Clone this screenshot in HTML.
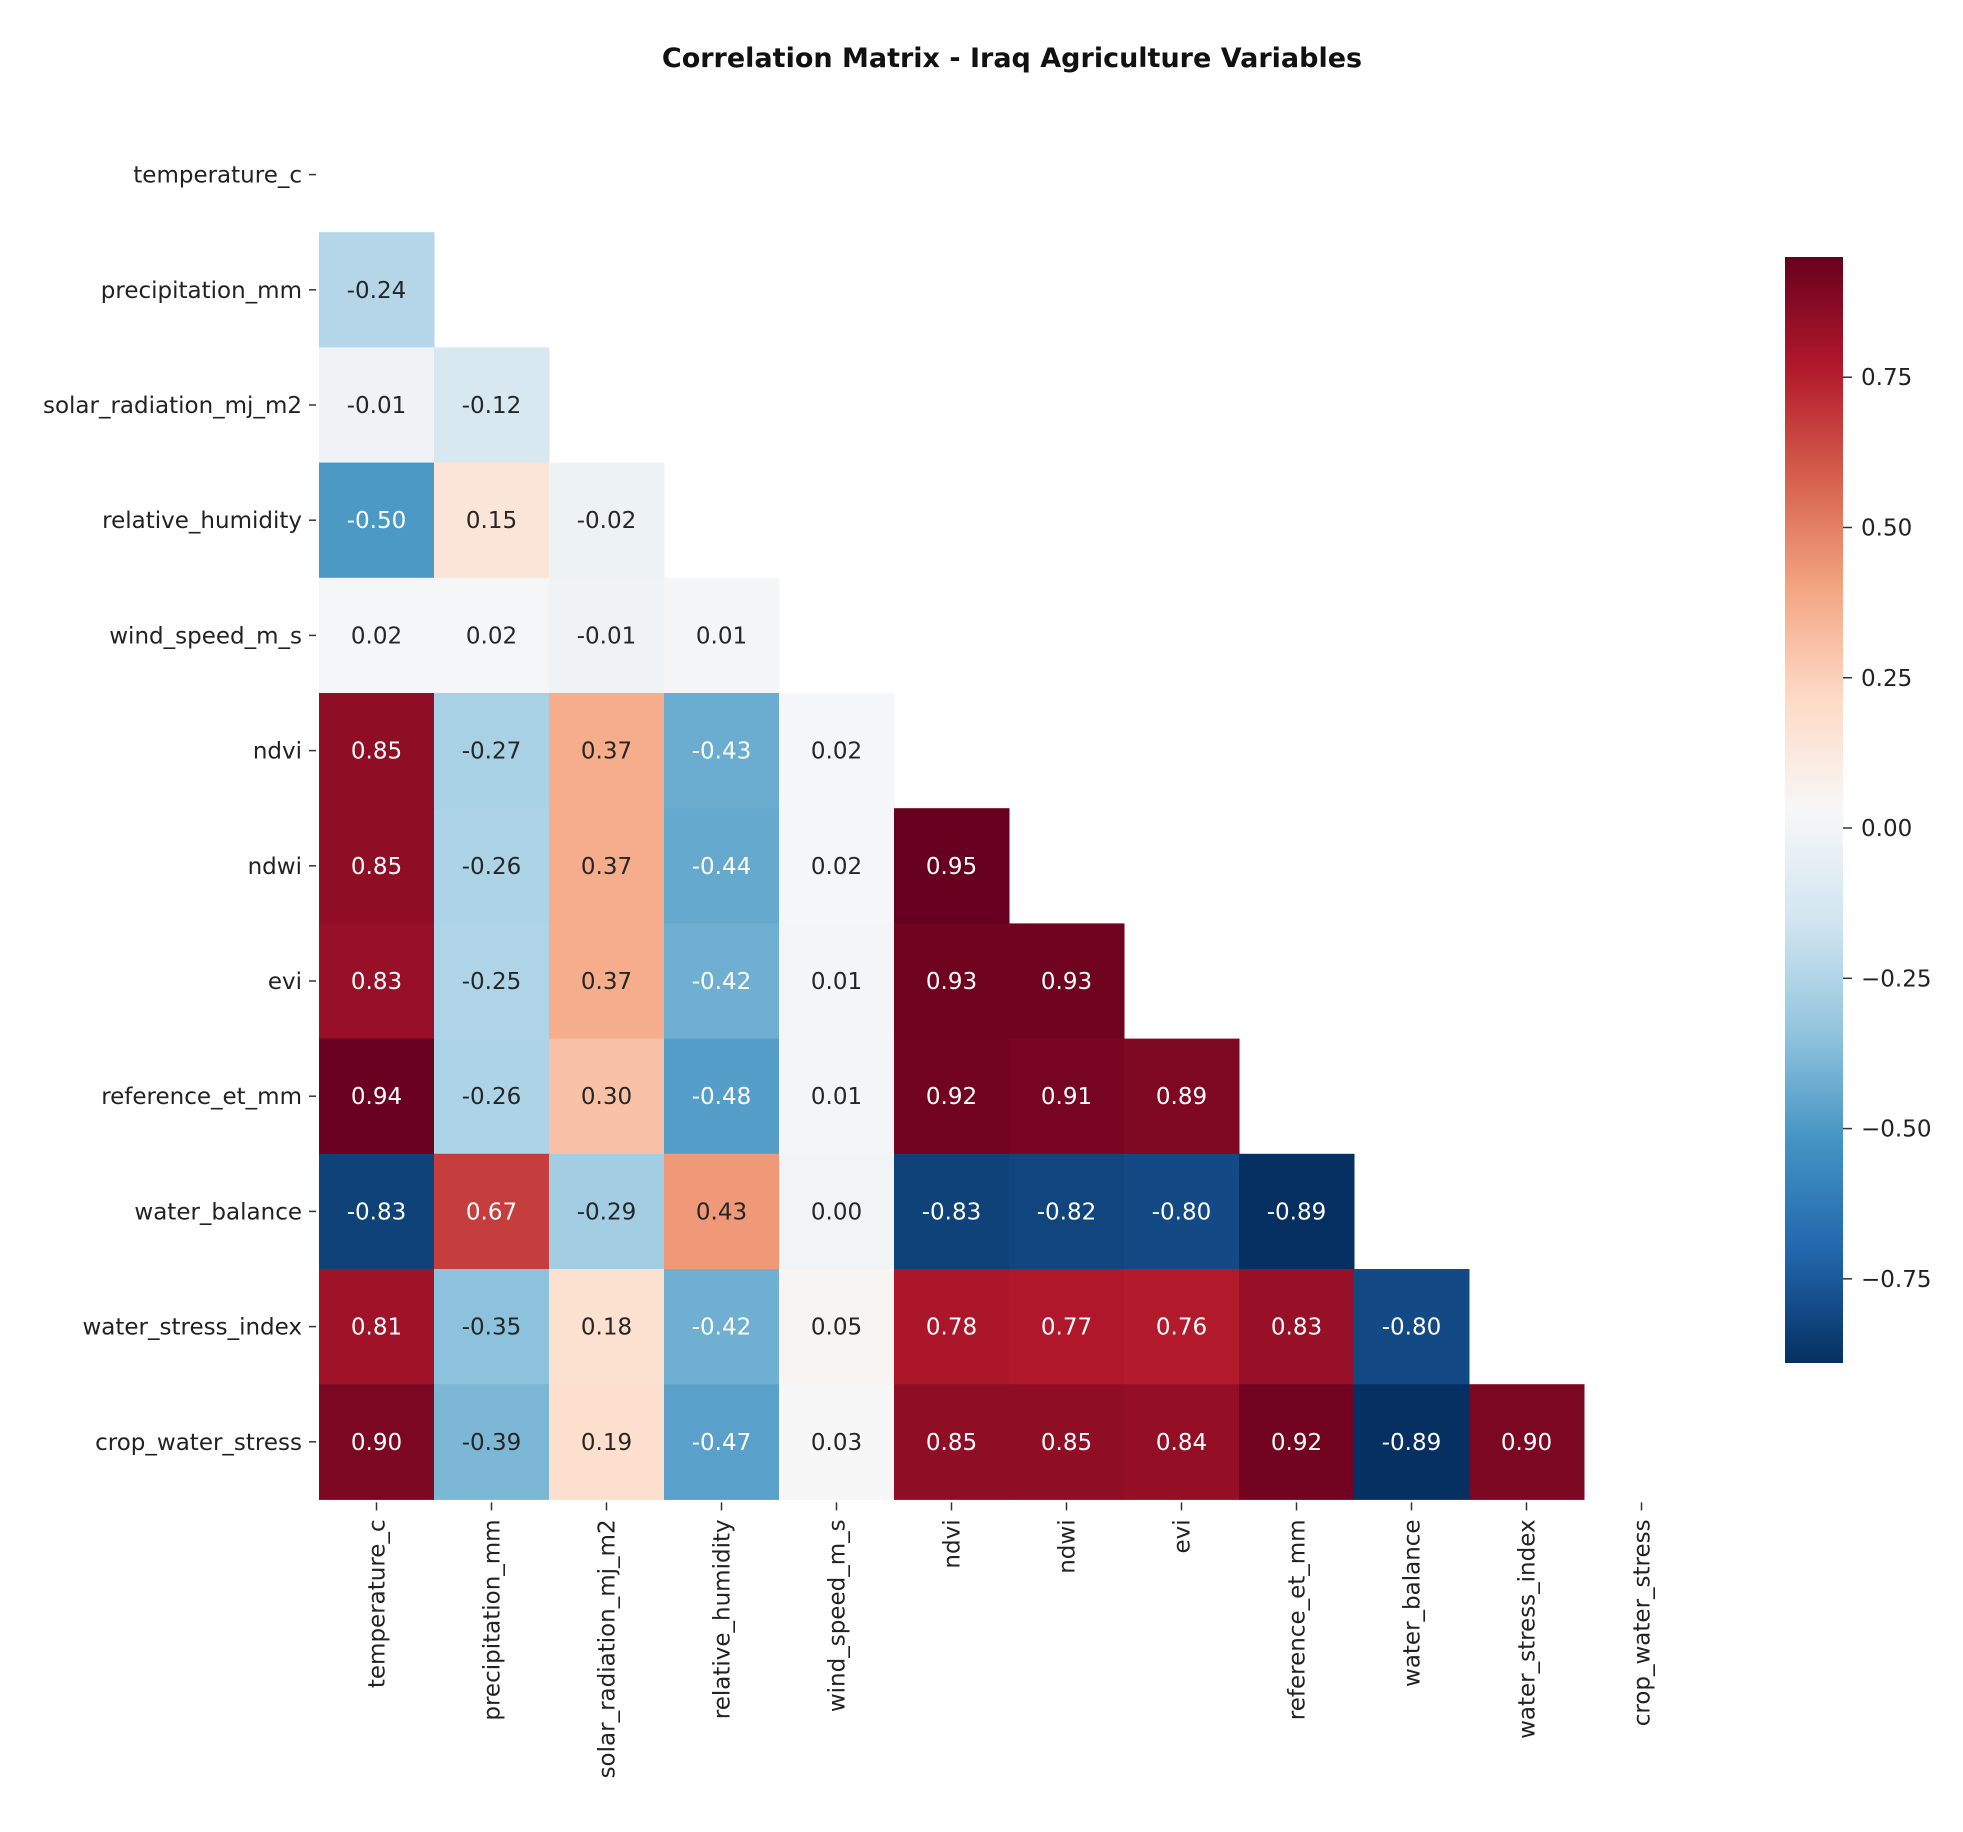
<!DOCTYPE html>
<html><head><meta charset="utf-8">
<style>
html,body{margin:0;padding:0;background:#fff;}
svg{display:block;font-family:"DejaVu Sans","Liberation Sans",sans-serif;}
</style></head>
<body>
<svg id="chart" width="1963" height="1832" viewBox="0 0 1963 1832" xmlns="http://www.w3.org/2000/svg">
  <defs><linearGradient id="cbgrad" x1="0" y1="1" x2="0" y2="0"></linearGradient></defs>
  <text x="1012" y="67" text-anchor="middle" font-size="27" font-weight="bold" fill="#111">Correlation Matrix - Iraq Agriculture Variables</text>
  <g id="cells"></g>
  <g id="ylabels"></g>
  <g id="xlabels"></g>
  <g id="colorbar"></g>
</svg>
<script>
const variables = ["temperature_c","precipitation_mm","solar_radiation_mj_m2","relative_humidity","wind_speed_m_s","ndvi","ndwi","evi","reference_et_mm","water_balance","water_stress_index","crop_water_stress"];
const row1 = [-0.24];
const row2 = [-0.01,-0.12];
const row3 = [-0.50,0.15,-0.02];
const row4 = [0.02,0.02,-0.01,0.01];
const row5 = [0.85,-0.27,0.37,-0.43,0.02];
const row6 = [0.85,-0.26,0.37,-0.44,0.02,0.95];
const row7 = [0.83,-0.25,0.37,-0.42,0.01,0.93,0.93];
const row8 = [0.94,-0.26,0.30,-0.48,0.01,0.92,0.91,0.89];
const row9 = [-0.83,0.67,-0.29,0.43,0.00,-0.83,-0.82,-0.80,-0.89];
const row10 = [0.81,-0.35,0.18,-0.42,0.05,0.78,0.77,0.76,0.83,-0.80];
const row11 = [0.90,-0.39,0.19,-0.47,0.03,0.85,0.85,0.84,0.92,-0.89,0.90];
const rows = [[],row1,row2,row3,row4,row5,row6,row7,row8,row9,row10,row11];
const colorbarTicks = [0.75,0.50,0.25,0.00,-0.25,-0.50,-0.75];
const vmin = -0.89, vmax = 0.95;

const NS = "http://www.w3.org/2000/svg";
const gx0 = 319, gy0 = 117, cw = 115, ch = 115.2;
const xPos = j => gx0 + j*cw;
const yPos = i => gy0 + i*ch;
const rdbu = ["#053061","#2166ac","#4393c3","#92c5de","#d1e5f0","#f7f7f7","#fddbc7","#f4a582","#d6604d","#b2182b","#67001f"];
function hex(h){return [1,3,5].map(k=>parseInt(h.substr(k,2),16));}
function cmapT(t){
  t=Math.max(0,Math.min(1,t));
  const p=t*(rdbu.length-1), k=Math.min(Math.floor(p),rdbu.length-2), f=p-k;
  const a=hex(rdbu[k]), b=hex(rdbu[k+1]);
  return a.map((v,n)=>Math.round(v+(b[n]-v)*f));
}
const norm = v => (v-vmin)/(vmax-vmin);
function lum(c){
  const l=c.map(v=>{v/=255;return v<=0.03928?v/12.92:Math.pow((v+0.055)/1.055,2.4);});
  return 0.2126*l[0]+0.7152*l[1]+0.0722*l[2];
}
function mk(tag,attrs,parent){const e=document.createElementNS(NS,tag);for(const k in attrs)e.setAttribute(k,attrs[k]);parent.appendChild(e);return e;}

const cells=document.getElementById("cells");
rows.forEach((r,i)=>{
  r.forEach((v,j)=>{
    const c=cmapT(norm(v));
    const rect=mk("rect",{x:xPos(j),y:yPos(i),width:cw+0.5,height:ch+0.5,fill:`rgb(${c.join(",")})`},cells);
    
    
    const t=mk("text",{x:xPos(j)+cw/2,y:yPos(i)+ch/2+8,"text-anchor":"middle","font-size":"23",fill:lum(c)>0.408?"#262626":"#ffffff"},cells);
    t.textContent=v.toFixed(2);
    
    
  });
});

const yl=document.getElementById("ylabels"), xl=document.getElementById("xlabels");
variables.forEach((name,i)=>{
  const cy=yPos(i)+ch/2;
  const tk=mk("line",{x1:gx0-10,x2:gx0-3,y1:cy,y2:cy,stroke:"#333","stroke-width":"1.5"},yl);
  
  
  const t=mk("text",{x:gx0-17,y:cy+8,"text-anchor":"end","font-size":"23",fill:"#222"},yl);
  t.textContent=name;
  
  
  const cx=xPos(i)+cw/2, by=yPos(12);
  const tk2=mk("line",{x1:cx,x2:cx,y1:by+3,y2:by+11,stroke:"#333","stroke-width":"1.5"},xl);
  
  
  const t2=mk("text",{x:0,y:0,"text-anchor":"end","font-size":"23",fill:"#222",transform:`translate(${cx+8},${by+20}) rotate(-90)`},xl);
  t2.textContent=name;
  
  
});

// colorbar
const cbx=1785, cbw=58, cbTop=257, cbBot=1363;
const cbY = v => cbBot - (v-vmin)/(vmax-vmin)*(cbBot-cbTop);
const grad=document.getElementById("cbgrad");
for(let k=0;k<=20;k++){const c=cmapT(k/20);mk("stop",{offset:(k/20),"stop-color":`rgb(${c.join(",")})`},grad);}
const cb=document.getElementById("colorbar");
const cbr=mk("rect",{x:cbx,y:cbTop,width:cbw,height:cbBot-cbTop,fill:"url(#cbgrad)"},cb);


colorbarTicks.forEach(v=>{
  const y=cbY(v);
  const l=mk("line",{x1:cbx+cbw,x2:cbx+cbw+9,y1:y,y2:y,stroke:"#333","stroke-width":"1.5"},cb);
  
  
  const t=mk("text",{x:cbx+cbw+18,y:y+8,"font-size":"23",fill:"#222"},cb);
  t.textContent=(v<0?"\u2212":"")+Math.abs(v).toFixed(2);
  
  
});
</script>
</body></html>
